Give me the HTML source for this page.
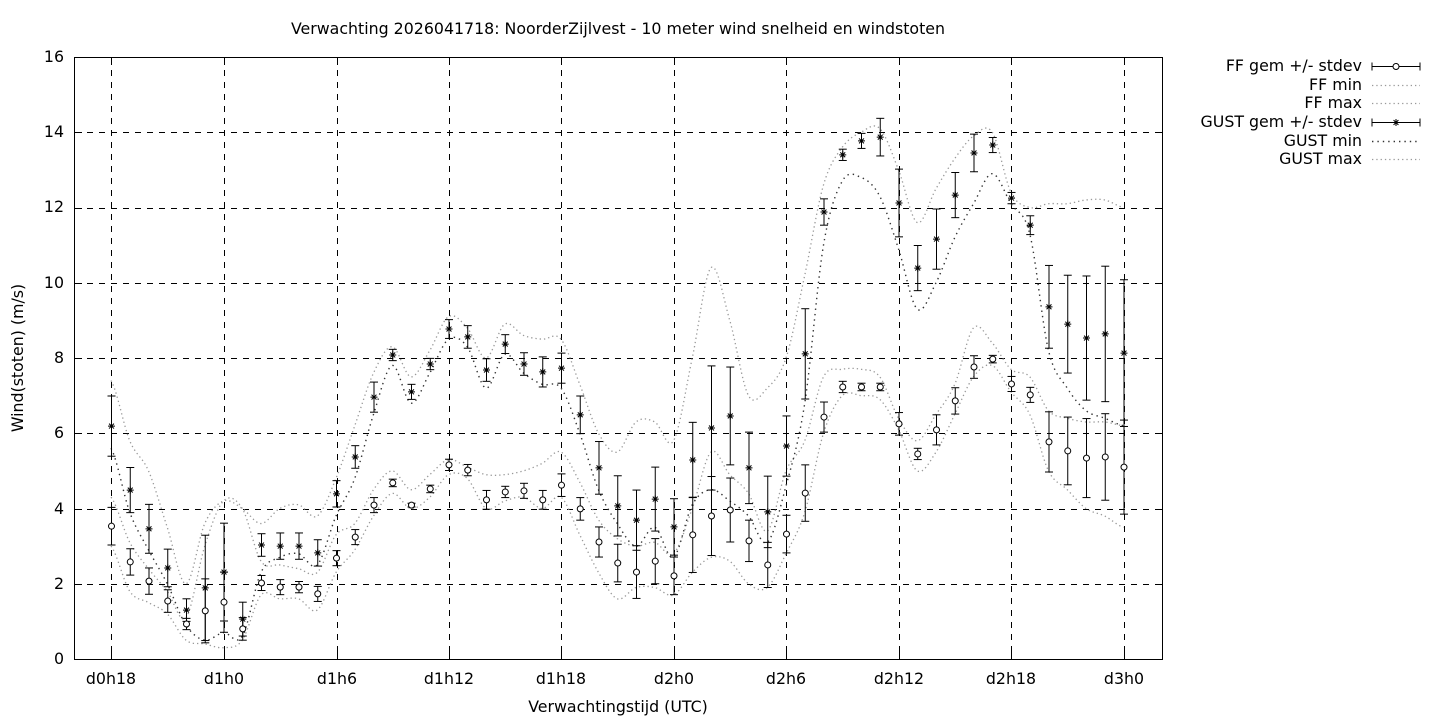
<!DOCTYPE html>
<html><head><meta charset="utf-8"><style>
html,body{margin:0;padding:0;background:#fff;}
svg{display:block;font-family:"DejaVu Sans","Liberation Sans",sans-serif;}
text{font-size:15.8px;fill:#000;}
</style></head><body>
<svg id="s" width="1440" height="720" xmlns="http://www.w3.org/2000/svg">
<rect width="1440" height="720" fill="#fff"/>
<text x="618" y="34" text-anchor="middle">Verwachting 2026041718: NoorderZijlvest - 10 meter wind snelheid en windstoten</text>
<g id="grid" stroke="#000" stroke-width="1" stroke-dasharray="6,6" fill="none"></g>
<rect x="74.5" y="57.5" width="1088" height="602" fill="none" stroke="#000"/>
<g id="ticks" stroke="#000"></g>
<g text-anchor="end">
<text x="64" y="664">0</text><text x="64" y="589">2</text><text x="64" y="514">4</text><text x="64" y="438">6</text><text x="64" y="363">8</text><text x="64" y="288">10</text><text x="64" y="212">12</text><text x="64" y="137">14</text><text x="64" y="62">16</text>
</g>
<g text-anchor="middle">
<text x="111" y="684">d0h18</text><text x="224" y="684">d1h0</text><text x="337" y="684">d1h6</text><text x="449" y="684">d1h12</text><text x="561" y="684">d1h18</text><text x="674" y="684">d2h0</text><text x="786" y="684">d2h6</text><text x="899" y="684">d2h12</text><text x="1011" y="684">d2h18</text><text x="1124" y="684">d3h0</text>
<text x="618" y="712">Verwachtingstijd (UTC)</text>
<text transform="translate(23,358) rotate(-90)">Wind(stoten) (m/s)</text>
</g>
<g text-anchor="end">
<text x="1362" y="71">FF gem +/- stdev</text>
<text x="1362" y="90">FF min</text>
<text x="1362" y="108">FF max</text>
<text x="1362" y="127">GUST gem +/- stdev</text>
<text x="1362" y="146">GUST min</text>
<text x="1362" y="164">GUST max</text>
</g>
<g id="data"></g>
</svg>
<script>
const NS="http://www.w3.org/2000/svg";
const X=k=>111+18.75*k, Y=v=>659-v*37.625;
function el(p,t,a){const e=document.createElementNS(NS,t);for(const k in a)e.setAttribute(k,a[k]);p.appendChild(e);return e;}
const g=document.getElementById('grid'),tk=document.getElementById('ticks'),d=document.getElementById('data');
[111,224,337,449,561,674,786,899,1011,1124].forEach(x=>{el(g,'line',{x1:x+.5,y1:58,x2:x+.5,y2:659});el(tk,'line',{x1:x+.5,y1:659,x2:x+.5,y2:652});el(tk,'line',{x1:x+.5,y1:58,x2:x+.5,y2:65});});
for(let v=2;v<16;v+=2){const y=Math.round(Y(v))+.5;el(g,'line',{x1:75,y1:y,x2:1162,y2:y});}
for(let v=0;v<=16;v+=2){const y=Math.round(Y(v))+.5;el(tk,'line',{x1:75,y1:y,x2:82,y2:y});el(tk,'line',{x1:1162,y1:y,x2:1155,y2:y});}
const ff=[3.53,2.58,2.07,1.54,0.93,1.28,1.51,0.8,2.02,1.91,1.91,1.73,2.68,3.24,4.09,4.68,4.09,4.52,5.16,5.02,4.23,4.44,4.47,4.23,4.62,3.99,3.11,2.55,2.31,2.6,2.21,3.3,3.8,3.96,3.14,2.5,3.32,4.41,6.43,7.23,7.23,7.23,6.25,5.45,6.09,6.86,7.76,7.97,7.31,7.02,5.77,5.53,5.34,5.37,5.1];
const gu=[6.19,4.49,3.46,2.42,1.3,1.89,2.31,1.06,3.03,3.0,3.0,2.82,4.39,5.37,6.96,8.08,7.1,7.84,8.77,8.56,7.68,8.37,7.84,7.63,7.73,6.49,5.08,4.07,3.69,4.25,3.51,5.29,6.14,6.46,5.08,3.91,5.66,8.11,11.88,13.4,13.77,13.87,12.12,10.39,11.16,12.33,13.45,13.66,12.25,11.53,9.36,8.9,8.53,8.64,8.13];
const gmax=[7.4,5.8,5.0,3.5,2.0,3.6,4.2,4.0,3.6,4.0,4.1,3.8,4.8,6.2,7.6,8.3,7.5,8.2,9.1,8.8,8.0,8.9,8.6,8.5,8.5,7.3,6.0,5.5,6.3,6.3,5.8,8.0,10.4,9.0,7.0,7.2,8.0,10.2,12.6,13.6,14.0,14.1,13.0,11.6,12.5,13.3,13.9,14.0,12.4,12.0,12.1,12.1,12.2,12.2,12.0];
const gmin=[5.6,3.9,2.9,2.0,0.9,0.5,0.7,0.6,2.3,2.7,2.8,2.5,3.8,4.8,6.5,7.8,6.8,7.6,8.5,8.3,7.2,8.1,7.6,7.3,7.2,6.0,4.5,3.6,3.0,3.5,2.7,4.1,4.5,4.2,3.8,3.1,4.6,6.8,11.0,12.7,12.8,12.3,10.9,9.3,10.0,11.2,12.1,12.9,12.1,11.3,8.2,7.2,6.6,6.4,6.2];
const fmax=[4.3,3.1,2.4,1.8,1.1,3.0,4.2,4.0,2.6,2.5,2.4,2.3,3.3,3.6,4.5,5.0,4.5,4.9,5.3,5.1,4.9,4.9,5.0,5.2,5.5,4.7,3.7,3.2,3.0,3.1,2.8,4.0,5.5,4.9,4.4,3.4,5.0,5.8,7.5,7.7,7.7,7.5,6.4,5.8,6.5,7.3,8.8,8.4,7.7,7.5,6.6,6.4,6.3,6.3,6.2];
const fmin=[3.0,1.8,1.5,1.2,0.5,0.4,0.3,0.5,1.7,1.6,1.6,1.3,2.3,2.9,3.8,4.4,4.0,4.3,4.9,4.8,4.0,4.2,4.3,4.0,4.3,3.3,2.3,1.6,1.9,1.9,1.7,2.3,2.7,2.6,2.0,1.9,2.8,3.9,6.0,7.0,7.0,6.9,6.1,5.0,5.5,6.5,7.5,7.8,7.1,6.5,5.0,4.5,4.0,3.8,3.5];
const fsd=[0.5,0.35,0.35,0.3,0.15,0.85,0.8,0.3,0.2,0.2,0.15,0.2,0.2,0.2,0.2,0.1,0.05,0.1,0.15,0.15,0.25,0.15,0.2,0.25,0.3,0.3,0.4,0.5,0.7,0.6,0.5,1.0,1.05,0.85,0.55,0.6,0.5,0.75,0.4,0.15,0.1,0.1,0.3,0.15,0.4,0.35,0.3,0.1,0.2,0.2,0.8,0.9,1.05,1.15,1.25];
const gsd=[0.8,0.6,0.65,0.5,0.3,1.4,1.3,0.45,0.3,0.35,0.35,0.35,0.35,0.3,0.4,0.15,0.2,0.15,0.25,0.3,0.3,0.25,0.3,0.4,0.4,0.5,0.7,0.8,0.8,0.85,0.75,1.0,1.65,1.3,0.95,0.95,0.8,1.2,0.35,0.15,0.2,0.5,0.9,0.6,0.8,0.6,0.5,0.2,0.15,0.25,1.1,1.3,1.65,1.8,1.95];
function smooth(arr){let p=`M${X(0)},${Y(arr[0])}`;for(let i=0;i<arr.length-1;i++){const x0=X(i),x1=X(i+1),y0=Y(arr[i]),y1=Y(arr[i+1]);const ym=Y(arr[Math.max(i-1,0)]),yp=Y(arr[Math.min(i+2,arr.length-1)]);p+=` C${x0+6.25},${y0+(y1-ym)/6} ${x1-6.25},${y1-(yp-y0)/6} ${x1},${y1}`;}return p;}
const dot={fill:'none',stroke:'#999','stroke-width':1.3,'stroke-dasharray':'1.3,3'};
el(d,'path',Object.assign({d:smooth(fmin)},dot));
el(d,'path',Object.assign({d:smooth(fmax)},dot));
el(d,'path',Object.assign({d:smooth(gmax)},dot));
el(d,'path',{d:smooth(gmin),fill:'none',stroke:'#333','stroke-width':1.4,'stroke-dasharray':'1.4,4'});
function bar(x,v,s){const y1=Y(v-s),y2=Y(v+s);el(d,'line',{x1:x,y1:y1,x2:x,y2:y2,stroke:'#000'});el(d,'line',{x1:x-4,y1:y1,x2:x+4,y2:y1,stroke:'#000'});el(d,'line',{x1:x-4,y1:y2,x2:x+4,y2:y2,stroke:'#000'});}
function star(x,y){const r=3.5;el(d,'path',{d:`M${x-r},${y}H${x+r}M${x},${y-r}V${y+r}M${x-r*.7},${y-r*.7}L${x+r*.7},${y+r*.7}M${x-r*.7},${y+r*.7}L${x+r*.7},${y-r*.7}`,stroke:'#000','stroke-width':1});}
for(let k=0;k<55;k++){const x=X(k)+.5;bar(x,ff[k],fsd[k]);bar(x,gu[k],gsd[k]);el(d,'circle',{cx:x,cy:Y(ff[k]),r:3,fill:'#fff',stroke:'#000'});star(x,Y(gu[k]));}
const L=[[66,'e'],[85,'a'],[103,'a'],[122,'s'],[141,'m'],[159,'a']];
L.forEach(([y,t])=>{y+=.5;if(t=='e'||t=='s'){el(d,'line',{x1:1372,y1:y,x2:1420,y2:y,stroke:'#000'});el(d,'line',{x1:1372,y1:y-4,x2:1372,y2:y+4,stroke:'#000'});el(d,'line',{x1:1420,y1:y-4,x2:1420,y2:y+4,stroke:'#000'});if(t=='e')el(d,'circle',{cx:1396,cy:y,r:3,fill:'#fff',stroke:'#000'});else star(1396,y);}else if(t=='m'){el(d,'line',{x1:1372,y1:y,x2:1420,y2:y,stroke:'#333','stroke-width':1.4,'stroke-dasharray':'1.4,4'});}else{el(d,'line',Object.assign({x1:1372,y1:y,x2:1420,y2:y},dot));}});
</script>
</body></html>
